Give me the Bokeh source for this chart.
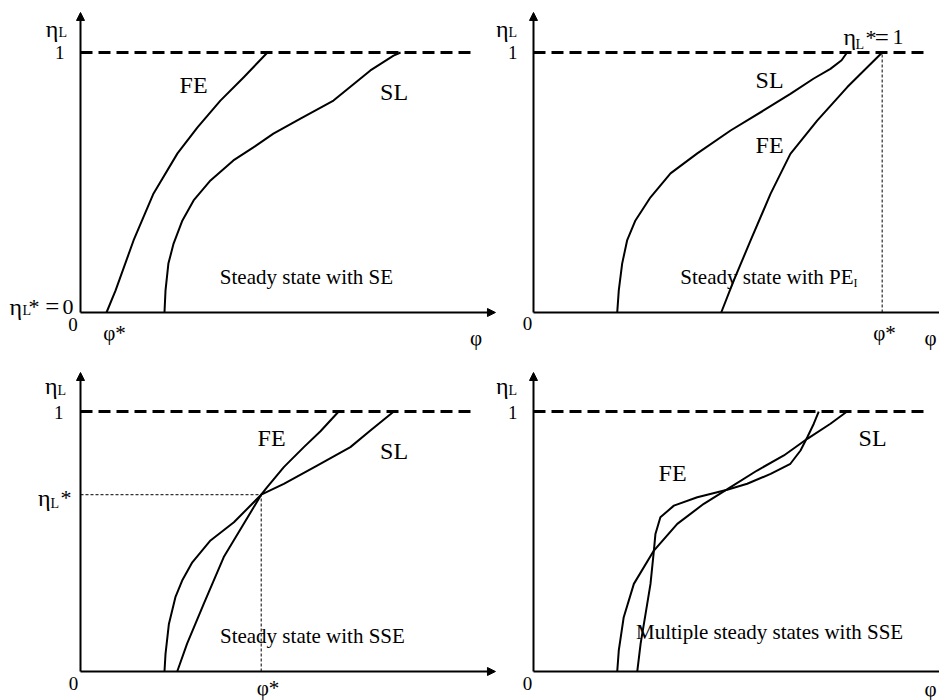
from bokeh.plotting import figure
from bokeh.layouts import gridplot
from bokeh.models import Range1d, Arrow, NormalHead
from bokeh.core.properties import value
from bokeh.embed import file_html
from bokeh.resources import INLINE

FONT = "Liberation Serif"

# ---------------- data (phi, eta_L) ----------------
# Panel 1: Steady state with SE
fe1_phi = [0.100, 0.135, 0.204, 0.281, 0.373, 0.450, 0.538, 0.627, 0.719]
fe1_eta = [0.0, 0.085, 0.277, 0.458, 0.612, 0.712, 0.815, 0.904, 1.0]
sl1_phi = [0.323, 0.327, 0.338, 0.358, 0.392, 0.435, 0.500, 0.588, 0.665, 0.742, 0.846, 0.973, 1.115, 1.204, 1.231]
sl1_eta = [0.0, 0.085, 0.188, 0.265, 0.354, 0.431, 0.508, 0.585, 0.635, 0.688, 0.746, 0.815, 0.931, 0.988, 1.0]

# Panel 2: Steady state with PE_I
sl2_phi = [0.322, 0.328, 0.341, 0.360, 0.392, 0.450, 0.527, 0.630, 0.758, 0.885, 0.988, 1.078, 1.142, 1.185, 1.206]
sl2_eta = [0.0, 0.085, 0.188, 0.277, 0.354, 0.443, 0.535, 0.612, 0.700, 0.777, 0.841, 0.900, 0.937, 0.970, 1.0]
fe2_phi = [0.722, 0.770, 0.835, 0.912, 0.988, 1.091, 1.207, 1.341]
fe2_eta = [0.0, 0.123, 0.277, 0.457, 0.610, 0.738, 0.867, 1.0]
phi_star_2 = 1.341

# Panel 3: Steady state with SSE
fe3_phi = [0.372, 0.410, 0.474, 0.551, 0.628, 0.695, 0.718, 0.782, 0.859, 0.923, 0.993]
fe3_eta = [0.0, 0.107, 0.260, 0.440, 0.568, 0.680, 0.709, 0.786, 0.863, 0.924, 1.0]
sl3_phi = [0.323, 0.327, 0.340, 0.365, 0.391, 0.430, 0.500, 0.590, 0.695, 0.782, 0.910, 1.038, 1.115, 1.205]
sl3_eta = [0.0, 0.068, 0.183, 0.286, 0.350, 0.420, 0.504, 0.574, 0.680, 0.722, 0.792, 0.863, 0.927, 1.0]
phi_star_3 = 0.695
eta_star_3 = 0.680

# Panel 4: Multiple steady states with SSE
sl4_phi = [0.322, 0.328, 0.347, 0.386, 0.463, 0.553, 0.655, 0.758, 0.860, 0.963, 1.053, 1.142, 1.206]
sl4_eta = [0.0, 0.081, 0.209, 0.337, 0.465, 0.568, 0.645, 0.709, 0.773, 0.831, 0.895, 0.953, 1.0]
fe4_phi = [0.399, 0.412, 0.431, 0.450, 0.463, 0.469, 0.488, 0.540, 0.630, 0.745, 0.822, 0.912, 0.988, 1.027, 1.053, 1.078, 1.097]
fe4_eta = [0.0, 0.107, 0.222, 0.337, 0.465, 0.529, 0.593, 0.638, 0.670, 0.699, 0.722, 0.760, 0.799, 0.850, 0.901, 0.953, 1.0]

eta_max = 1.0


def make_panel(xr, yr, w, h):
    p = figure(width=w, height=h, x_range=Range1d(*xr), y_range=Range1d(*yr),
               output_backend="svg", toolbar_location=None, min_border=0,
               x_axis_type=None, y_axis_type=None, outline_line_color=None,
               background_fill_color="white", border_fill_color="white")
    return p


def axes(p, y_top, x_end, arrow_x):
    p.add_layout(Arrow(end=NormalHead(size=8, fill_color="black", line_color="black", line_width=1),
                       x_start=0, y_start=0, x_end=0, y_end=y_top,
                       line_width=2, line_color="black"))
    if arrow_x:
        p.add_layout(Arrow(end=NormalHead(size=8, fill_color="black", line_color="black", line_width=1),
                           x_start=0, y_start=0, x_end=x_end, y_end=0,
                           line_width=2, line_color="black"))
    else:
        p.line([0, x_end], [0, 0], line_width=2, line_color="black")
    p.line([0, 1.52], [eta_max, eta_max], line_width=3, line_color="black", line_dash="12 6")


def curve(p, xs, ys):
    p.line(xs, ys, line_width=2, line_color="black", line_join="round")


def txt(p, x, y, s, size, align="center", baseline="alphabetic"):
    p.text(x=[x], y=[y], text=[s], text_font=value(FONT), text_font_size=f"{size}px",
           text_align=align, text_baseline=baseline, text_color="black")


TOP_Y = (-0.1654, 1.20)
BOT_Y = (-0.1115, 1.2154)
LEFT_X = (-0.3077, 1.60)
RIGHT_X = (-0.1423, 1.5615)

# ---------------- panel 1 ----------------
p1 = make_panel(LEFT_X, TOP_Y, 496, 355)
axes(p1, 1.154, 1.596, True)
curve(p1, fe1_phi, fe1_eta)
curve(p1, sl1_phi, sl1_eta)
txt(p1, -0.085, 1.092, "η", 24, "right")
txt(p1, -0.085, 1.077, "L", 14, "left")
txt(p1, -0.062, 1.0, "1", 19, "right", "middle")
txt(p1, -0.029, -0.046, "0", 19, "center", "middle")
txt(p1, -0.273, 0.023, "η", 24, "left")
txt(p1, -0.223, 0.008, "L", 14, "left")
txt(p1, -0.200, 0.023, "*", 22, "left")
txt(p1, -0.108, 0.023, "=", 25, "center")
txt(p1, -0.027, 0.023, "0", 22, "right")
txt(p1, 0.131, -0.077, "φ*", 21)
txt(p1, 1.521, -0.100, "φ", 21)
txt(p1, 0.435, 0.875, "FE", 24, "center", "middle")
txt(p1, 1.206, 0.848, "SL", 24, "center", "middle")
txt(p1, 0.869, 0.138, "Steady state with SE", 21)

# ---------------- panel 2 ----------------
p2 = make_panel(RIGHT_X, TOP_Y, 443, 355)
axes(p2, 1.154, 1.60, False)
curve(p2, sl2_phi, sl2_eta)
curve(p2, fe2_phi, fe2_eta)
p2.line([phi_star_2, phi_star_2], [0, eta_max], line_width=1, line_color="black", line_dash="3 2")
txt(p2, -0.096, 1.092, "η", 24, "right")
txt(p2, -0.096, 1.077, "L", 14, "left")
txt(p2, -0.062, 1.0, "1", 19, "right", "middle")
txt(p2, -0.023, -0.044, "0", 19, "center", "middle")
txt(p2, 1.192, 1.058, "η", 24, "left")
txt(p2, 1.238, 1.031, "L", 14, "left")
txt(p2, 1.277, 1.058, "*", 22, "left")
txt(p2, 1.340, 1.058, "=", 25, "center")
txt(p2, 1.423, 1.058, "1", 22, "right")
txt(p2, 0.908, 0.896, "SL", 24, "center", "middle")
txt(p2, 0.908, 0.646, "FE", 24, "center", "middle")
txt(p2, 1.231, 0.135, "Steady state with PE", 21, "right")
txt(p2, 1.231, 0.115, "I", 12, "left")
txt(p2, 1.350, -0.077, "φ*", 21)
txt(p2, 1.527, -0.100, "φ", 21)

# ---------------- panel 3 ----------------
p3 = make_panel(LEFT_X, BOT_Y, 496, 345)
axes(p3, 1.150, 1.596, True)
p3.line([0, phi_star_3], [eta_star_3, eta_star_3], line_width=1, line_color="black", line_dash="3 2")
p3.line([phi_star_3, phi_star_3], [0, eta_star_3], line_width=1, line_color="black", line_dash="3 2")
curve(p3, fe3_phi, fe3_eta)
curve(p3, sl3_phi, sl3_eta)
txt(p3, -0.088, 1.100, "η", 24, "right")
txt(p3, -0.088, 1.081, "L", 14, "left")
txt(p3, -0.065, 0.996, "1", 19, "right", "middle")
txt(p3, -0.115, 0.669, "η", 24, "right")
txt(p3, -0.115, 0.646, "L", 14, "left")
txt(p3, -0.077, 0.669, "*", 22, "left")
txt(p3, -0.027, -0.048, "0", 19, "center", "middle")
txt(p3, 0.721, -0.064, "φ*", 21)
txt(p3, 0.735, 0.900, "FE", 24, "center", "middle")
txt(p3, 1.206, 0.848, "SL", 24, "center", "middle")
txt(p3, 0.892, 0.136, "Steady state with SSE", 21)

# ---------------- panel 4 ----------------
p4 = make_panel(RIGHT_X, BOT_Y, 443, 345)
axes(p4, 1.150, 1.60, False)
curve(p4, sl4_phi, sl4_eta)
curve(p4, fe4_phi, fe4_eta)
txt(p4, -0.096, 1.100, "η", 24, "right")
txt(p4, -0.096, 1.081, "L", 14, "left")
txt(p4, -0.062, 0.996, "1", 19, "right", "middle")
txt(p4, -0.023, -0.046, "0", 19, "center", "middle")
txt(p4, 1.527, -0.066, "φ", 21)
txt(p4, 0.535, 0.763, "FE", 24, "center", "middle")
txt(p4, 1.304, 0.898, "SL", 24, "center", "middle")
txt(p4, 0.908, 0.151, "Multiple steady states with SSE", 21)

grid = gridplot([[p1, p2], [p3, p4]], toolbar_location=None)

with open("out.html", "w") as f:
    f.write(file_html(grid, INLINE))
